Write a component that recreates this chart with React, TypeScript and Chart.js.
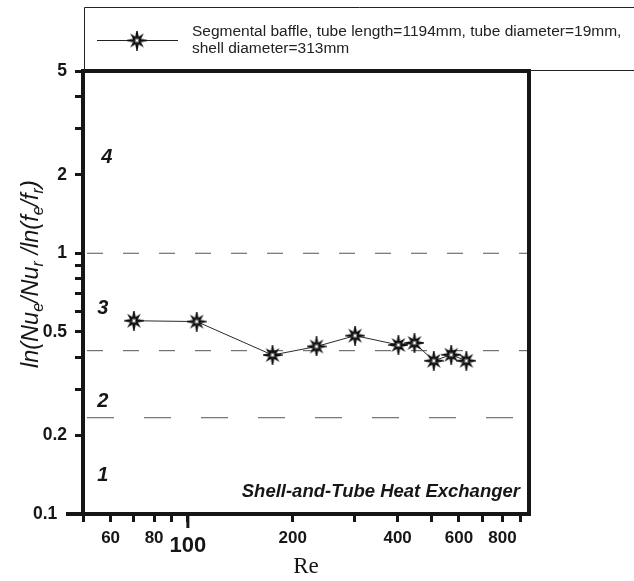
import React, { useEffect, useRef } from "react";
import { Chart, registerables } from "chart.js";

Chart.register(...registerables);

// ---- data ----
const reynolds = [70, 106, 175, 234, 302, 402, 447, 508, 570, 630];
const ratio = [0.551, 0.547, 0.407, 0.439, 0.483, 0.445, 0.453, 0.387, 0.408, 0.387];
const boundaryValues = [1.0, 0.423, 0.234];
const xTickValues = [50, 60, 70, 80, 90, 100, 200, 300, 400, 500, 600, 700, 800, 900];
const xTickLabels = [60, 80, 100, 200, 400, 600, 800];
const yTickValues = [0.1, 0.2, 0.3, 0.4, 0.5, 0.6, 0.7, 0.8, 0.9, 1, 2, 3, 4, 5];
const yTickLabels = [0.1, 0.2, 0.5, 1, 2, 5];
const regionLabels = ["1", "2", "3", "4"];
const regionRe = [57, 57, 57, 58.5];
const regionValue = [0.141, 0.269, 0.612, 2.33];
const legendLines = [
  "Segmental baffle, tube length=1194mm, tube diameter=19mm,",
  "shell diameter=313mm",
];
const seriesLabel = legendLines.join(" ");
const xTitle = "Re";
const yTitleParts: [string, boolean][] = [
  ["ln(Nu", false],
  ["e", true],
  ["/Nu", false],
  ["r", true],
  [" /ln(f", false],
  ["e", true],
  ["/f", false],
  ["r", true],
  [")", false],
];
const annotation = "Shell-and-Tube Heat Exchanger";

const X_MIN = 50;
const X_MAX = 953;
const Y_MIN = 0.1;
const Y_MAX = 5;

const SANS = "'Liberation Sans', Arial, sans-serif";
const INK = "#161616";

function makeStar(): HTMLCanvasElement {
  const size = 20;
  const c = document.createElement("canvas");
  c.width = size;
  c.height = size;
  const g = c.getContext("2d")!;
  const cx = size / 2;
  const cy = size / 2;
  g.beginPath();
  for (let k = 0; k < 16; k++) {
    const ang = -Math.PI / 2 + (k * Math.PI) / 8;
    let r: number;
    if (k % 2 === 1) r = 2.7;
    else if (k % 4 === 0) r = 8.3;
    else r = 6.3;
    const px = cx + r * Math.cos(ang);
    const py = cy + r * Math.sin(ang);
    if (k === 0) g.moveTo(px, py);
    else g.lineTo(px, py);
  }
  g.closePath();
  g.fillStyle = "#fff";
  g.fill();
  g.strokeStyle = "#111";
  g.lineWidth = 1.8;
  g.stroke();
  return c;
}

export default function App() {
  const ref = useRef<HTMLCanvasElement | null>(null);

  useEffect(() => {
    const canvas = ref.current;
    if (!canvas) return;
    const star = makeStar();

    const decor = {
      id: "decor",
      afterDraw(chart: any) {
        const ctx = chart.ctx as CanvasRenderingContext2D;
        const a = chart.chartArea;
        const xs = chart.scales.x;
        const ys = chart.scales.y;
        ctx.save();

        // top and right frame
        ctx.strokeStyle = INK;
        ctx.lineWidth = 4;
        ctx.beginPath();
        ctx.moveTo(a.left - 2, a.top);
        ctx.lineTo(a.right, a.top);
        ctx.lineTo(a.right, a.bottom + 2);
        ctx.stroke();

        // axis extension at 0.1
        const y01 = ys.getPixelForValue(0.1);
        ctx.beginPath();
        ctx.moveTo(66, y01);
        ctx.lineTo(a.left, y01);
        ctx.stroke();

        // long tick at 100
        const x100 = xs.getPixelForValue(100);
        ctx.lineWidth = 3;
        ctx.beginPath();
        ctx.moveTo(x100, a.bottom);
        ctx.lineTo(x100, a.bottom + 14);
        ctx.stroke();

        // legend box
        ctx.lineWidth = 1;
        ctx.strokeStyle = "#222";
        ctx.beginPath();
        ctx.moveTo(84.5, a.top);
        ctx.lineTo(84.5, 7.5);
        ctx.lineTo(640, 7.5);
        ctx.moveTo(a.right, a.top - 0.5);
        ctx.lineTo(640, a.top - 0.5);
        ctx.stroke();
        ctx.beginPath();
        ctx.moveTo(97, 40.5);
        ctx.lineTo(178, 40.5);
        ctx.stroke();
        ctx.drawImage(star, 137 - star.width / 2, 40.5 - star.height / 2);
        ctx.fillStyle = "#222";
        ctx.font = `15.5px ${SANS}`;
        ctx.textAlign = "left";
        ctx.textBaseline = "alphabetic";
        ctx.fillText(legendLines[0], 192, 35.5);
        ctx.fillText(legendLines[1], 192, 53);

        // region labels
        ctx.fillStyle = INK;
        ctx.font = `italic bold 20px ${SANS}`;
        ctx.textAlign = "center";
        ctx.textBaseline = "middle";
        regionLabels.forEach((t, i) => {
          ctx.fillText(t, xs.getPixelForValue(regionRe[i]), ys.getPixelForValue(regionValue[i]));
        });

        // annotation
        ctx.font = `italic bold 18.5px ${SANS}`;
        ctx.textAlign = "right";
        ctx.textBaseline = "alphabetic";
        ctx.fillText(annotation, a.right - 9, a.bottom - 17);

        // y title with subscripts
        ctx.translate(38, 368);
        ctx.rotate(-Math.PI / 2);
        ctx.textAlign = "left";
        let cx = 0;
        for (const [txt, sub] of yTitleParts) {
          ctx.font = sub ? `italic 16px ${SANS}` : `italic 23.5px ${SANS}`;
          ctx.fillText(txt, cx, sub ? 5 : 0);
          cx += ctx.measureText(txt).width;
        }
        ctx.restore();
      },
    };

    const chart = new Chart(canvas, {
      type: "line",
      data: {
        datasets: [
          {
            label: seriesLabel,
            data: reynolds.map((x, i) => ({ x, y: ratio[i] })),
            borderColor: "#2a2a2a",
            borderWidth: 1,
            pointStyle: star as any,
            pointRadius: 8,
            tension: 0,
            order: 0,
          },
          ...boundaryValues.map((v, i) => ({
            label: `boundary ${i + 1}`,
            data: [
              { x: X_MIN, y: v },
              { x: X_MAX, y: v },
            ],
            borderColor: "#555",
            borderWidth: 1,
            borderDash: i === 2 ? [27, 30] : [16, 20],
            borderDashOffset: i === 2 ? 53 : 32,
            pointRadius: 0,
            order: 1,
          })),
        ],
      },
      options: {
        responsive: false,
        animation: false,
        events: [],
        layout: { padding: { top: 71, right: 105, left: 0, bottom: 0 } },
        plugins: {
          legend: { display: false },
          tooltip: { enabled: false },
        },
        scales: {
          x: {
            type: "logarithmic",
            min: X_MIN,
            max: X_MAX,
            afterBuildTicks: (scale: any) => {
              scale.ticks = xTickValues.map((v) => ({ value: v }));
            },
            afterFit: (scale: any) => {
              scale.height = 67;
            },
            border: { display: true, width: 4, color: INK },
            grid: {
              drawOnChartArea: false,
              drawTicks: true,
              tickLength: 8,
              tickWidth: 3,
              tickColor: INK,
              color: INK,
            },
            ticks: {
              autoSkip: false,
              maxRotation: 0,
              minRotation: 0,
              padding: 6,
              color: INK,
              font: (c: any) =>
                c.tick && c.tick.value === 100
                  ? { family: SANS, size: 22, weight: "bold", lineHeight: 1.65 }
                  : { family: SANS, size: 17, weight: "bold" },
              callback: (v: any) => (xTickLabels.includes(Number(v)) ? String(v) : ""),
            },
            title: {
              display: true,
              text: xTitle,
              color: INK,
              font: { family: "'Liberation Serif', 'Times New Roman', serif", size: 23 },
              padding: { top: 0, bottom: 0 },
            },
          },
          y: {
            type: "logarithmic",
            min: Y_MIN,
            max: Y_MAX,
            afterBuildTicks: (scale: any) => {
              scale.ticks = yTickValues.map((v) => ({ value: v }));
            },
            afterFit: (scale: any) => {
              scale.width = 83;
            },
            border: { display: true, width: 4, color: INK },
            grid: {
              drawOnChartArea: false,
              drawTicks: true,
              tickLength: 8,
              tickWidth: 3,
              tickColor: INK,
              color: INK,
            },
            ticks: {
              autoSkip: false,
              padding: 8,
              color: INK,
              font: { family: SANS, size: 17.5, weight: "bold" },
              callback: (v: any) => {
                const n = Number(v);
                if (!yTickLabels.includes(n)) return "";
                return n === 0.1 ? "0.1  " : String(n);
              },
            },
          },
        },
      },
      plugins: [decor],
    });

    return () => chart.destroy();
  }, []);

  return (
    <div style={{ position: "absolute", left: 0, top: 0, width: 634, height: 581, background: "#fff" }}>
      <canvas ref={ref} width={634} height={581} style={{ display: "block" }} />
    </div>
  );
}
